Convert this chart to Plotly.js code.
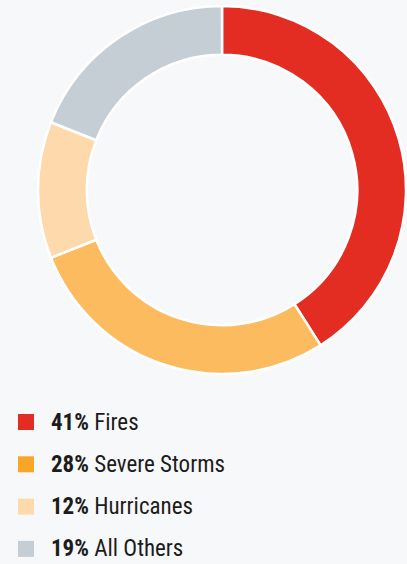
<!DOCTYPE html>
<html><head><meta charset="utf-8">
<script src="https://cdn.plot.ly/plotly-3.0.1.min.js"></script>
<style>
html,body{margin:0;padding:0;background:#f7f8fa;}
#chart{width:407px;height:564px;}
</style>
</head><body><div id="chart"></div>
<script>
const categories = ["Fires", "Severe Storms", "Hurricanes", "All Others"];
const percents = [41, 28, 12, 19];
const sliceColors = ["#e32c22", "#fdbb5f", "#fdd9ab", "#c6ced5"];
const legendColors = ["#e32c22", "#f8a62a", "#fdd9ab", "#c6ced5"];

const W = 407, H = 564;
const font = "'Liberation Sans Narrow', 'Roboto Condensed', Roboto, sans-serif";

const shapes = [], annotations = [];
const legendTop = 422, legendStep = 42.3;
categories.forEach((c, i) => {
  const yc = legendTop + i * legendStep;
  shapes.push({type: "rect", xref: "paper", yref: "paper",
    x0: 18 / W, x1: 34 / W, y0: 1 - (yc - 8) / H, y1: 1 - (yc + 8) / H,
    fillcolor: legendColors[i], line: {width: 0}});
  annotations.push({xref: "paper", yref: "paper", x: 49 / W, y: 1 - yc / H,
    xanchor: "left", yanchor: "middle", showarrow: false,
    text: "<b>" + percents[i] + "%</b> " + c,
    font: {family: font, size: 23, color: "#1c1c1c"}});
});

Plotly.newPlot("chart", [{
  type: "pie", labels: categories, values: percents,
  hole: 0.735, sort: false, direction: "clockwise", rotation: 0,
  textinfo: "none", hoverinfo: "label+percent",
  marker: {colors: sliceColors, line: {color: "#ffffff", width: 2.5}},
  domain: {x: [38 / W, 406 / W], y: [(H - 374) / H, (H - 6) / H]},
  showlegend: false
}], {
  width: W, height: H, margin: {l: 0, r: 0, t: 0, b: 0},
  paper_bgcolor: "#f7f8fa", plot_bgcolor: "#f7f8fa",
  shapes: shapes, annotations: annotations
}, {displayModeBar: false, staticPlot: true});
</script></body></html>
